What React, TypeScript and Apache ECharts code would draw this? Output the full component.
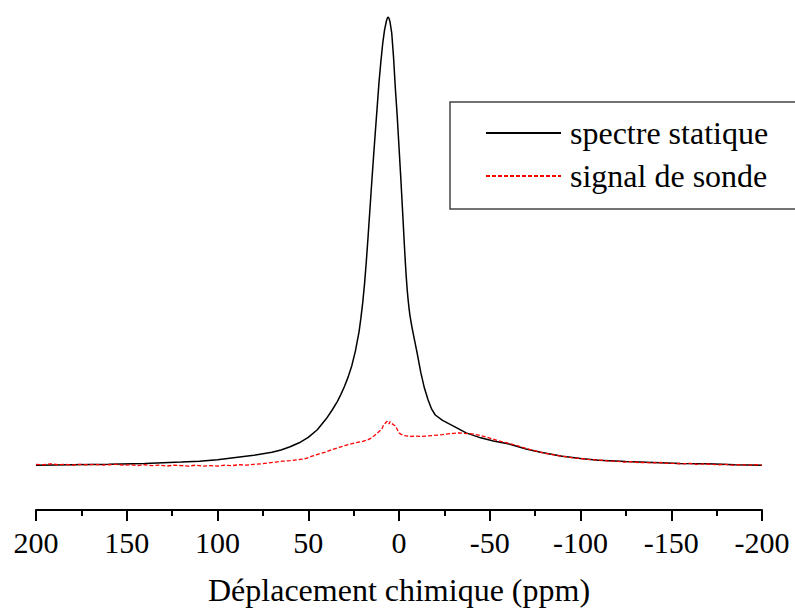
import React, { useEffect, useRef } from "react";
import * as echarts from "echarts";

const xTickLabels = ["200", "150", "100", "50", "0", "-50", "-100", "-150", "-200"];

const staticPpm = [200, 180, 160, 140, 120, 110, 100, 90, 80, 70, 65, 60, 55, 50, 45, 40, 37, 34, 32, 30, 28, 26, 24, 22, 21, 20, 19, 18, 17, 16, 15, 14, 13, 12, 11, 10, 9, 8, 7, 6.5, 6, 5.5, 5, 4, 3, 2, 1, 0, -1, -2, -3, -3.5, -4, -4.5, -5, -5.5, -6, -7, -8, -10, -12, -14, -16, -18, -20, -24, -30, -37, -45, -52, -60, -70, -78, -90, -100, -110, -125, -140, -155, -170, -185, -200];
const staticIntensity = [0.0, 0.001, 0.002, 0.004, 0.007, 0.009, 0.012, 0.017, 0.022, 0.029, 0.034, 0.041, 0.05, 0.062, 0.079, 0.104, 0.122, 0.142, 0.158, 0.176, 0.197, 0.222, 0.255, 0.298, 0.328, 0.362, 0.404, 0.455, 0.512, 0.572, 0.632, 0.69, 0.746, 0.8, 0.855, 0.9, 0.94, 0.97, 0.99, 0.997, 1.0, 0.997, 0.99, 0.964, 0.91, 0.84, 0.78, 0.71, 0.64, 0.565, 0.488, 0.452, 0.42, 0.392, 0.37, 0.351, 0.335, 0.311, 0.29, 0.25, 0.207, 0.172, 0.146, 0.125, 0.112, 0.1, 0.087, 0.072, 0.061, 0.054, 0.048, 0.036, 0.029, 0.02, 0.015, 0.011, 0.008, 0.006, 0.004, 0.003, 0.001, 0.0];

const sondePpm = [200, 196, 192, 188, 184, 180, 176, 172, 168, 164, 160, 156, 152, 148, 144, 140, 136, 132, 128, 124, 120, 116, 112, 108, 104, 100, 96, 92, 88, 84, 80, 76, 72, 68, 64, 60, 56, 52, 48, 44, 40, 36, 32, 28, 24, 20, 17, 15, 13, 11, 9.5, 8.5, 7.5, 6.5, 5.5, 5, 4, 3, 2, 1, 0, -1.5, -3, -6, -9, -12, -15, -18, -21, -24, -27, -30, -33, -36, -40, -44, -48, -52, -56, -60, -64, -68, -72, -76, -80, -84, -88, -92, -96, -100, -104, -108, -112, -116, -120, -124, -128, -132, -136, -140, -144, -148, -152, -156, -160, -164, -168, -172, -176, -180, -184, -188, -192, -196, -200];
const sondeIntensity = [0.002, 0.001, 0.003, 0.001, 0.002, 0.0, 0.002, 0.001, 0.002, 0.0, 0.001, 0.002, 0.0, 0.001, -0.001, 0.001, -0.001, 0.0, -0.002, 0.0, -0.001, -0.002, 0.0, -0.002, -0.001, -0.002, 0.0, -0.001, 0.001, 0.0, 0.002, 0.003, 0.005, 0.007, 0.009, 0.01, 0.012, 0.014, 0.02, 0.025, 0.03, 0.036, 0.041, 0.046, 0.05, 0.053, 0.057, 0.061, 0.068, 0.075, 0.08, 0.09, 0.094, 0.098, 0.092, 0.097, 0.093, 0.09, 0.088, 0.08, 0.072, 0.068, 0.066, 0.064, 0.065, 0.064, 0.065, 0.066, 0.067, 0.068, 0.07, 0.071, 0.072, 0.071, 0.07, 0.067, 0.063, 0.058, 0.053, 0.049, 0.045, 0.04, 0.035, 0.031, 0.027, 0.024, 0.021, 0.019, 0.016, 0.015, 0.013, 0.012, 0.011, 0.009, 0.009, 0.007, 0.008, 0.006, 0.006, 0.005, 0.006, 0.004, 0.004, 0.003, 0.004, 0.002, 0.003, 0.002, 0.001, 0.002, 0.0, 0.001, 0.0, 0.001, 0.0];

const seriesNames = ["spectre statique", "signal de sonde"];
const axisTitle = "Déplacement chimique (ppm)";

const FONT = "'Liberation Serif', 'DejaVu Serif', serif";

export default function App() {
  const ref = useRef<HTMLDivElement>(null);
  useEffect(() => {
    if (!ref.current) return;
    const chart = echarts.init(ref.current, undefined, { renderer: "svg" });
    const staticData = staticPpm.map((p, i) => [p, staticIntensity[i]]);
    const sondeData = sondePpm.map((p, i) => [p, sondeIntensity[i]]);
    chart.setOption({
      animation: false,
      backgroundColor: "#ffffff",
      grid: { left: 36, right: 33, top: 17, bottom: 104 },
      xAxis: {
        type: "value",
        inverse: true,
        min: -200,
        max: 200,
        interval: 50,
        name: axisTitle,
        nameLocation: "middle",
        nameGap: 64,
        nameTextStyle: { fontFamily: FONT, fontSize: 32, color: "#000" },
        axisLine: { show: true, onZero: false, lineStyle: { color: "#000", width: 2 } },
        axisTick: { show: true, length: 11, lineStyle: { color: "#000", width: 2 } },
        minorTick: { show: true, splitNumber: 2, length: 6, lineStyle: { color: "#000", width: 2 } },
        splitLine: { show: false },
        minorSplitLine: { show: false },
        axisLabel: {
          fontFamily: FONT,
          fontSize: 30,
          color: "#000",
          margin: 17,
          formatter: (v: number) => {
            const idx = xTickLabels.indexOf(String(v));
            return idx >= 0 ? xTickLabels[idx] : String(v);
          },
        },
      },
      yAxis: {
        type: "value",
        min: -0.1,
        max: 1.0,
        show: false,
        splitLine: { show: false },
      },
      legend: {
        orient: "vertical",
        left: 485,
        top: 117,
        padding: 0,
        itemWidth: 75,
        itemHeight: 20,
        itemGap: 11,
        itemStyle: { opacity: 0 },
        textStyle: { fontFamily: FONT, fontSize: 32, color: "#000", lineHeight: 32, padding: [0, 0, 0, 4] },
        data: seriesNames,
      },
      graphic: [
        {
          type: "rect",
          shape: { x: 450, y: 102, width: 360, height: 107 },
          style: { fill: "none", stroke: "#444", lineWidth: 1.5 },
          silent: true,
        },
      ],
      series: [
        {
          name: seriesNames[0],
          type: "line",
          data: staticData,
          symbol: "none",
          smooth: false,
          lineStyle: { color: "#000", width: 1.5 },
          itemStyle: { color: "#000" },
          z: 2,
        },
        {
          name: seriesNames[1],
          type: "line",
          data: sondeData,
          symbol: "none",
          lineStyle: { color: "#ff0000", width: 1.3, type: [4, 2] },
          itemStyle: { color: "#ff0000" },
          z: 3,
        },
      ],
    });
    return () => chart.dispose();
  }, []);
  return <div ref={ref} style={{ position: "absolute", left: 0, top: 0, width: 795, height: 614 }} />;
}
